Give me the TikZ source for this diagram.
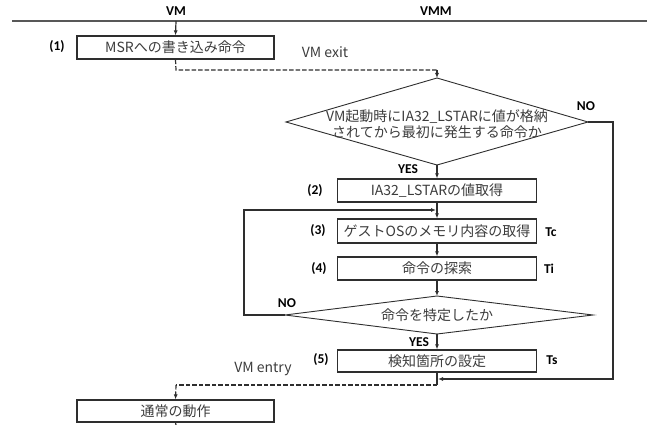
\documentclass[tikz,border=0pt]{standalone}
\usepackage{fontspec}
\setmainfont{Carlito}
\newfontfamily\jp{Noto Sans CJK JP}
\usetikzlibrary{arrows.meta}
\definecolor{txt}{HTML}{3C3C3C}
\definecolor{ln}{HTML}{2E2E2E}
\begin{document}
\begin{tikzpicture}[x=1pt,y=-1pt,
  box/.style={draw=ln,line width=1.2pt,minimum width=199pt,minimum height=23pt,inner sep=0pt,font=\jp\fontsize{14}{16}\selectfont,text=txt},
  lbl/.style={font=\bfseries\fontsize{13.5}{15}\selectfont,text=black,inner sep=0pt},
  jt/.style={font=\jp\fontsize{14}{16}\selectfont,text=txt,inner sep=0pt},
  conn/.style={draw=ln,line width=1.2pt},
  arr/.style={conn,-{Latex[length=5pt,width=4pt]}},
  dsh/.style={conn,dash pattern=on 4.5pt off 2pt},
  dia/.style={draw=ln,line width=0.9pt}]
\useasboundingbox (0,0) rectangle (651,425);
% header
\coordinate (hl) at (12,21);
\coordinate (hr) at (647,21);
\draw[draw=ln!80,line width=1.2pt] (hl) -- (hr);
\node[lbl] (hvm) at (176,11) {VM};
\node[lbl] (hvmm) at (436,11) {VMM};
\coordinate (top) at (176,21);
% boxes
\node[box,minimum width=197pt] (b1) at (175.5,47.5) {MSRへの書き込み命令};
\node[box] (b2) at (437,190.5) {IA32\_LSTARの値取得};
\node[box,minimum height=24pt] (b3) at (437,231) {ゲストOSのメモリ内容の取得};
\node[box] (b4) at (437,268.5) {命令の探索};
\node[box,minimum height=22pt] (b5) at (437,361) {検知箇所の設定};
\node[box,minimum width=197pt,minimum height=22pt] (b6) at (175.5,411) {通常の動作};
% labels
\node[lbl] (l1) at (57,47) {(1)};
\node[lbl] (l2) at (315,191) {(2)};
\node[lbl] (l3) at (318,231) {(3)};
\node[lbl] (l4) at (319,269) {(4)};
\node[lbl] (l5) at (321,360) {(5)};
\node[lbl] (tc) at (551,232) {Tc};
\node[lbl] (ti) at (549,269) {Ti};
\node[lbl] (ts) at (552,360) {Ts};
\node[jt] (vmexit) at (325,52) {VM exit};
\node[jt] (vmentry) at (263,369) {VM entry};
% diamond 1
\coordinate (d1t) at (437,78);
\coordinate (d1l) at (286,122);
\coordinate (d1r) at (588,122);
\coordinate (d1b) at (437,165);
\draw[dia] (d1t) -- (d1r) -- (d1b) -- (d1l) -- cycle;
\node[jt,align=center,font=\jp\fontsize{14}{15.5}\selectfont] (d1) at (437,124) {VM起動時にIA32\_LSTARに値が格納\\されてから最初に発生する命令か};
\node[lbl] (no1) at (586,106) {NO};
\node[lbl] (yes1) at (408,169) {YES};
% diamond 2
\coordinate (d2t) at (437,296);
\coordinate (d2l) at (285,315);
\coordinate (d2r) at (593,315);
\coordinate (d2b) at (437,334);
\draw[dia] (d2t) -- (d2r) -- (d2b) -- (d2l) -- cycle;
\node[jt] (d2) at (437,315) {命令を特定したか};
\node[lbl] (no2) at (287,303) {NO};
\node[lbl] (yes2) at (419,342) {YES};
% connectors
\draw[arr] (top) -- (b1.north);
\coordinate (e1) at (176,70);
\coordinate (e2) at (437,70);
\draw[dsh] (b1.south) -- (e1) -- (e2);
\draw[arr] (e2) -- (d1t);
\draw[arr] (d1b) -- (b2.north);
\draw[arr] (b2.south) -- (b3.north);
\draw[arr] (b3.south) -- (b4.north);
\draw[arr] (b4.south) -- (d2t);
\draw[arr] (d2b) -- (b5.north);
% loop back
\coordinate (lp1) at (244,315);
\coordinate (lp2) at (244,210);
\coordinate (j1) at (436,210);
\draw[arr] (d2l) -- (lp1) -- (lp2) -- (j1);
% NO path
\coordinate (n1) at (613,122);
\coordinate (n2) at (613,379);
\coordinate (j2) at (438,379);
\draw[arr] (d1r) -- (n1) -- (n2) -- (j2);
% VM entry
\coordinate (f1) at (437,385);
\coordinate (f2) at (176,385);
\draw[conn] (b5.south) -- (f1);
\draw[dsh] (f1) -- (f2);
\draw[dsh,-{Latex[length=5pt,width=4pt]}] (f2) -- (b6.north);
\coordinate (bot) at (176,425);
\draw[conn] (b6.south) -- (bot);
\end{tikzpicture}
\end{document}
